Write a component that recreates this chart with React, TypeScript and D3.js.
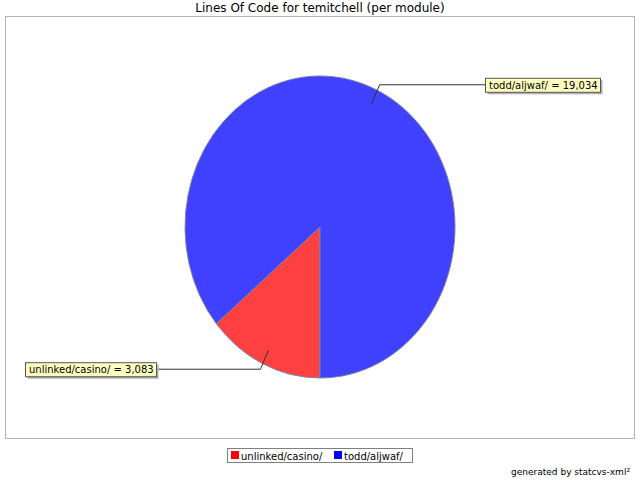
import React from 'react';
import * as d3 from 'd3';

const title = 'Lines Of Code for temitchell (per module)';
const modules = ['unlinked/casino/', 'todd/aljwaf/'];
const linesOfCode = [3083, 19034];
const sliceColors = ['#ff4040', '#4040ff'];
const footer = 'generated by statcvs-xml²';

export default function App() {
  const W = 640, H = 480;
  const cx = 320, cy = 227, rx = 135, ry = 151;
  const R = 100;
  const pie = d3.pie<number>().sort(null).startAngle(Math.PI).endAngle(3 * Math.PI);
  const arcs = pie(linesOfCode);
  const arcGen = d3.arc<d3.PieArcDatum<number>>().innerRadius(0).outerRadius(R);
  const fmt = d3.format(',');
  const font = 'DejaVu Sans, Verdana, sans-serif';

  const labels = arcs.map((a, i) => {
    const mid = (a.startAngle + a.endAngle) / 2;
    const sx = Math.sin(mid), sy = -Math.cos(mid);
    const p0 = [cx + rx * 0.9 * sx, cy + ry * 0.9 * sy];
    const p1 = [cx + rx * 1.04 * sx, cy + ry * 1.04 * sy];
    const right = sx > 0;
    const text = `${modules[i]} = ${fmt(linesOfCode[i])}`;
    return { p0, p1, right, text, i };
  });

  return (
    <svg width={W} height={H} style={{ display: 'block', position: 'absolute', left: 0, top: 0 }}>
      <rect x={0} y={0} width={W} height={H} fill="#fff" />
      <text x={320} y={12} textAnchor="middle" fontFamily={font} fontSize={12} fill="#000">{title}</text>
      <rect x={5.5} y={16.5} width={629} height={422} fill="#fff" stroke="#b4b4b4" strokeWidth={1} />
      <g transform={`translate(${cx},${cy}) scale(${rx / R},${ry / R})`}>
        {arcs.map((a, i) => (
          <path key={i} d={arcGen(a) || ''} fill={sliceColors[i]} stroke="#8080a0" strokeWidth={1}
            vectorEffect="non-scaling-stroke" />
        ))}
      </g>
      {labels.map(l => {
        const boxW = l.i === 0 ? 131 : 115;
        const boxH = 14;
        const bx = l.right ? 485 : 156 - boxW;
        const by = l.p1[1] - boxH / 2;
        const ex = l.right ? bx : bx + boxW;
        return (
          <g key={l.i}>
            <polyline points={`${l.p0[0]},${l.p0[1]} ${l.p1[0]},${l.p1[1]} ${ex},${l.p1[1]}`}
              fill="none" stroke="#333" strokeWidth={1} />
            <rect x={bx + 2.5} y={by + 2.5} width={boxW} height={boxH} fill="#b0b0b0" />
            <rect x={bx + 0.5} y={by + 0.5} width={boxW} height={boxH} fill="#ffffc0" stroke="#555" strokeWidth={1} />
            <text x={bx + 4} y={by + 11} fontFamily={font} fontSize={10} fill="#000">{l.text}</text>
          </g>
        );
      })}
      <rect x={227.5} y={448.5} width={185} height={14} fill="#fff" stroke="#808080" strokeWidth={1} />
      {modules.map((m, i) => {
        const x = i === 0 ? 231 : 334;
        return (
          <g key={m}>
            <rect x={x} y={451} width={8} height={8} fill={sliceColors[i] === '#ff4040' ? '#ff0000' : '#0000ff'} />
            <text x={x + 10} y={459.5} fontFamily={font} fontSize={10} fill="#000">{m}</text>
          </g>
        );
      })}
      <text x={630} y={475} textAnchor="end" fontFamily={font} fontSize={9} fill="#000">{footer}</text>
    </svg>
  );
}
